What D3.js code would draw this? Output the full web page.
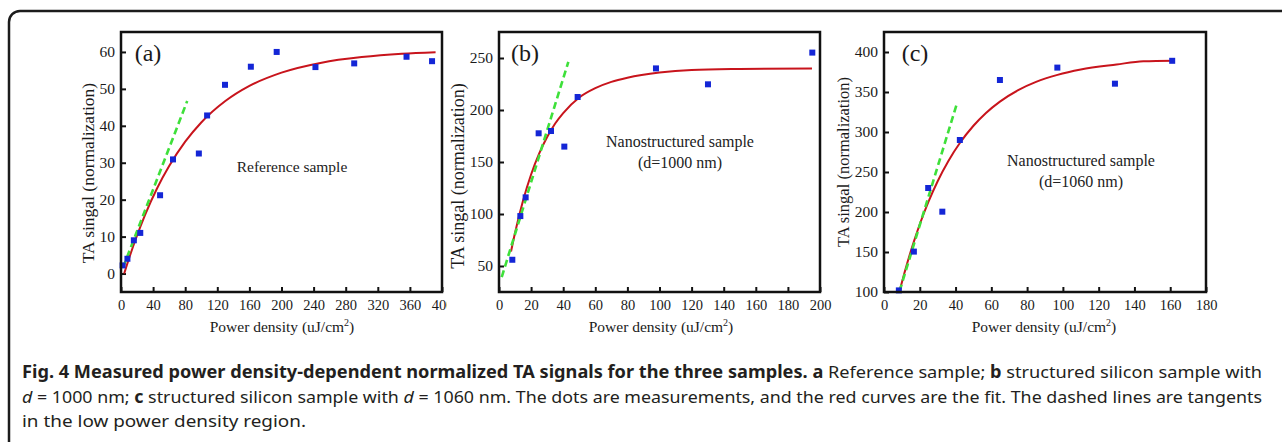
<!DOCTYPE html>
<html>
<head>
<meta charset="utf-8">
<script src="https://cdn.jsdelivr.net/npm/d3@7"></script>
<style>
body { margin: 0; background: #fff; }
svg { display: block; }
</style>
</head>
<body>
<svg id="fig" width="1282" height="442"></svg>
<script>
// panel (a) - reference sample
const aPowX = [2, 8, 16, 24, 48.7, 64.8, 97, 107.3, 129.6, 161.8, 194, 242.3, 290.6, 355.8, 387.6]
const aSigY = [2.2, 4, 9, 11, 21.2, 30.9, 32.5, 42.8, 51.1, 56, 60, 55.9, 56.9, 58.7, 57.5]
const aFitX = [4, 10, 20, 30, 45, 60, 80, 100, 130, 160, 200, 250, 300, 350, 392]
const aFitY = [0, 4.1, 10.3, 15.9, 23.1, 29.1, 35.7, 40.9, 46.7, 50.8, 54.4, 57.1, 58.6, 59.5, 59.9]
const aTanX = [2.5, 82.5]
const aTanY = [1.6, 46.7]
const aXTicks = [0, 40, 80, 120, 160, 200, 240, 280, 320, 360, 400]
const aYTicks = [0, 10, 20, 30, 40, 50, 60]

// panel (b) - d=1000 nm
const bPowX = [8.3, 13.3, 16.6, 24.7, 32.4, 40.7, 49, 97.8, 130.2, 195.2]
const bSigY = [56, 98, 116, 177.6, 179.8, 164.8, 212.5, 240, 224.7, 255.2]
const bFitX = [7.5, 10, 15, 20, 25, 30, 35, 40, 50, 60, 70, 80, 100, 120, 150, 195]
const bFitY = [64, 82, 113, 138, 158, 174, 187, 197, 212, 221, 227, 231, 236, 238.5, 239.5, 240]
const bTanX = [1.7, 43.2]
const bTanY = [39.4, 246.2]
const bXTicks = [0, 20, 40, 60, 80, 100, 120, 140, 160, 180, 200]
const bYTicks = [50, 100, 150, 200, 250]

// panel (c) - d=1060 nm
const cPowX = [8.3, 16.7, 24.7, 32.6, 42.4, 64.8, 96.9, 129.1, 161.1]
const cSigY = [102, 150.5, 230, 200.4, 290, 365, 380.5, 360.4, 389]
const cFitX = [8.7, 12, 16.7, 20, 24.7, 30, 36, 42.4, 50, 57, 64.8, 75, 85, 97, 110, 130, 145, 162]
const cFitY = [101, 128.4, 163, 184.7, 212, 238.5, 263.8, 286.2, 307.8, 323.8, 338, 352.3, 362.6, 371.4, 378.1, 384.4, 388.4, 389.1]
const cTanX = [8.7, 40.8]
const cTanY = [101, 335.8]
const cXTicks = [0, 20, 40, 60, 80, 100, 120, 140, 160, 180]
const cYTicks = [100, 150, 200, 250, 300, 350, 400]

const serif = '"Liberation Serif", "Times New Roman", serif'
const svg = d3.select('#fig')

svg.append('rect').attr('width', 1282).attr('height', 442).attr('fill', '#fff')

// outer frame, runs off the right and bottom edges
svg.append('rect')
    .attr('x', 9).attr('y', 11)
    .attr('width', 1320).attr('height', 500)
    .attr('rx', 11)
    .attr('fill', 'none')
    .attr('stroke', '#1c1c1c')
    .attr('stroke-width', 2.5)

const panels = [
    { id: 'a', label: '(a)', labelX: 148, xs: aPowX, ys: aSigY, fx: aFitX, fy: aFitY, tx: aTanX, ty: aTanY,
      xTicks: aXTicks, yTicks: aYTicks, xDom: [0, 400], yDom: [-5, 65.4], left: 121, right: 442,
      yTitleX: 88, yTitleY: 173, yTitleSize: 17.5, xTitleX: 282, clip: 447,
      note: ['Reference sample'], noteX: 292, noteY: 167, noteSize: 15.5 },
    { id: 'b', label: '(b)', labelX: 525, xs: bPowX, ys: bSigY, fx: bFitX, fy: bFitY, tx: bTanX, ty: bTanY,
      xTicks: bXTicks, yTicks: bYTicks, xDom: [0, 200], yDom: [25, 275], left: 499, right: 820,
      yTitleX: 458, yTitleY: 176, yTitleSize: 18, xTitleX: 661, clip: null,
      note: ['Nanostructured sample', '(d=1000 nm)'], noteX: 680, noteY: 141, noteSize: 16 },
    { id: 'c', label: '(c)', labelX: 915, xs: cPowX, ys: cSigY, fx: cFitX, fy: cFitY, tx: cTanX, ty: cTanY,
      xTicks: cXTicks, yTicks: cYTicks, xDom: [0, 180], yDom: [100, 425], left: 884, right: 1206,
      yTitleX: 843, yTitleY: 162, yTitleSize: 16.5, xTitleX: 1044, clip: null,
      note: ['Nanostructured sample', '(d=1060 nm)'], noteX: 1081, noteY: 160, noteSize: 16 }
]

const plotTop = 32, plotBottom = 292

panels.forEach(p => drawPanel(p))

function drawPanel(p) {
    const g = svg.append('g').attr('class', 'panel-' + p.id)
    if (p.clip) {
        svg.append('clipPath').attr('id', 'clip-' + p.id)
            .append('rect').attr('x', 0).attr('y', 0).attr('width', p.clip).attr('height', 442)
        g.attr('clip-path', `url(#clip-${p.id})`)
    }
    const x = d3.scaleLinear().domain(p.xDom).range([p.left, p.right])
    const y = d3.scaleLinear().domain(p.yDom).range([plotBottom, plotTop])

    // axes with inward ticks
    const xAxis = g.append('g')
        .attr('transform', `translate(0,${plotBottom})`)
        .call(d3.axisBottom(x).tickValues(p.xTicks).tickSizeInner(-5).tickSizeOuter(0).tickPadding(8))
    const yAxis = g.append('g')
        .attr('transform', `translate(${p.left},0)`)
        .call(d3.axisLeft(y).tickValues(p.yTicks).tickSizeInner(-5).tickSizeOuter(0).tickPadding(6))
    ;[xAxis, yAxis].forEach(a => {
        a.select('.domain').remove()
        a.selectAll('line').attr('stroke', '#111').attr('stroke-width', 2)
        a.selectAll('text')
            .attr('font-family', serif)
            .attr('fill', '#1a1a1a')
    })
    xAxis.selectAll('text').attr('font-size', 14.5)
    yAxis.selectAll('text').attr('font-size', 15.5)

    // fit curve
    const line = d3.line().x(d => x(d[0])).y(d => y(d[1]))
    g.append('path')
        .datum(d3.zip(p.fx, p.fy))
        .attr('fill', 'none')
        .attr('stroke', '#c8141c')
        .attr('stroke-width', 2)
        .attr('d', line.curve(d3.curveMonotoneX))

    // tangent
    g.append('path')
        .datum(d3.zip(p.tx, p.ty))
        .attr('fill', 'none')
        .attr('stroke', '#3ee03a')
        .attr('stroke-width', 2.6)
        .attr('stroke-dasharray', '7,4')
        .attr('d', d3.line().x(d => x(d[0])).y(d => y(d[1])))

    // measurements
    const s = 6
    g.append('g').selectAll('rect')
        .data(d3.zip(p.xs, p.ys))
        .join('rect')
        .attr('x', d => x(d[0]) - s / 2)
        .attr('y', d => y(d[1]) - s / 2)
        .attr('width', s).attr('height', s)
        .attr('fill', '#1426d6')

    // frame box
    g.append('rect')
        .attr('x', p.left).attr('y', plotTop)
        .attr('width', p.right - p.left).attr('height', plotBottom - plotTop)
        .attr('fill', 'none')
        .attr('stroke', '#111')
        .attr('stroke-width', 2.5)

    // panel label
    g.append('text')
        .attr('x', p.labelX).attr('y', 53)
        .attr('dy', '0.35em')
        .attr('text-anchor', 'middle')
        .attr('font-family', serif)
        .attr('font-size', 24)
        .attr('fill', '#1a1a1a')
        .text(p.label)

    // note
    p.note.forEach((t, i) => {
        g.append('text')
            .attr('x', p.noteX).attr('y', p.noteY + i * 21)
            .attr('dy', '0.35em')
            .attr('text-anchor', 'middle')
            .attr('font-family', serif)
            .attr('font-size', p.noteSize)
            .attr('fill', '#222')
            .text(t)
    })

    // axis titles
    g.append('text')
        .attr('transform', `translate(${p.yTitleX},${p.yTitleY}) rotate(-90)`)
        .attr('dy', '0.35em')
        .attr('text-anchor', 'middle')
        .attr('font-family', serif)
        .attr('font-size', p.yTitleSize)
        .attr('fill', '#1a1a1a')
        .text('TA singal (normalization)')

    const xt = g.append('text')
        .attr('x', p.xTitleX).attr('y', 332)
        .attr('text-anchor', 'middle')
        .attr('font-family', serif)
        .attr('font-size', 15.5)
        .attr('fill', '#1a1a1a')
    xt.append('tspan').text('Power density (uJ/cm')
    xt.append('tspan').attr('dy', -6).attr('font-size', 10).text('2')
    xt.append('tspan').attr('dy', 6).text(')')
}

// caption
const sans = '"Noto Sans", "Open Sans", sans-serif'
const capLines = [
    { y: 378, width: 1240, parts: [
        ['Fig. 4 Measured power density-dependent normalized TA signals for the three samples.', 'bold'],
        [' ', 'normal'], ['a', 'bold'], [' Reference sample; ', 'normal'], ['b', 'bold'],
        [' structured silicon sample with', 'normal']] },
    { y: 403, width: 1240, parts: [
        ['d', 'italic'], [' = 1000 nm; ', 'normal'], ['c', 'bold'], [' structured silicon sample with ', 'normal'],
        ['d', 'italic'], [' = 1060 nm. The dots are measurements, and the red curves are the fit. The dashed lines are tangents', 'normal']] },
    { y: 427, width: 284, parts: [['in the low power density region.', 'normal']] }
]
capLines.forEach(l => {
    const t = svg.append('text')
        .attr('x', 22).attr('y', l.y)
        .attr('font-family', sans)
        .attr('font-size', 17)
        .attr('fill', '#231f20')
        .style('white-space', 'pre')
    l.parts.forEach(([txt, st]) => {
        const ts = t.append('tspan').text(txt)
        if (st === 'bold') ts.attr('font-weight', 'bold')
        if (st === 'italic') ts.attr('font-style', 'italic')
    })
    t.attr('textLength', l.width).attr('lengthAdjust', 'spacingAndGlyphs')
})
</script>
</body>
</html>
